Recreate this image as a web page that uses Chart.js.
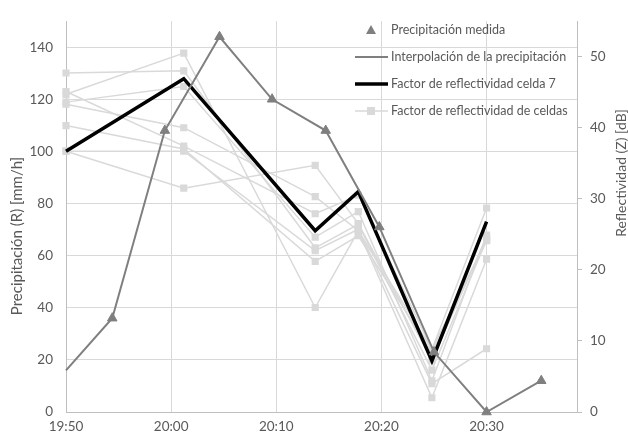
<!DOCTYPE html>
<html>
<head>
<meta charset="utf-8">
<script src="https://cdn.jsdelivr.net/npm/chart.js@4"></script>
<style>
  html, body { margin: 0; padding: 0; background: #fff; }
  #wrap { width: 628px; height: 439px; }
</style>
</head>
<body>
<div id="wrap"><canvas id="myChart" width="628" height="439"></canvas></div>
<script>
// tiempo en minutos desde las 19:50
var xTickPos = [0, 10, 20, 30, 40]
var xTickLabels = ['19:50', '20:00', '20:10', '20:20', '20:30']
var leftTicks = [0, 20, 40, 60, 80, 100, 120, 140]
var rightTicks = [0, 10, 20, 30, 40, 50]

// precipitacion medida [mm/h]
var tMedida = [4.4, 9.4, 14.6, 19.6, 24.7, 29.8, 35, 40, 45.2]
var precMedida = [36, 108, 144, 120, 108, 71, 23, 0, 12]

// interpolacion (arranca en 19:50)
var tInterp = [0, 4.4, 9.4, 14.6, 19.6, 24.7, 29.8, 35, 40, 45.2]
var precInterp = [16, 36, 108, 144, 120, 108, 71, 23, 0, 12]

// reflectividad [dB]
var tCeldas = [0, 11.2, 23.7, 27.8, 34.8, 40]
var celda7 = [36.7, 46.9, 25.5, 31.0, 7.2, 26.8]
var celdas = [
  [47.7, 48.0, 23.1, 26.4, 5.9, 24.2],
  [44.7, 50.5, 14.7, 25.5, 2.0, 21.5],
  [43.6, 45.8, 24.6, 28.2, 4.4, 24.9],
  [45.1, 37.4, 27.9, 30.5, 8.8, 28.7],
  [40.3, 37.0, 21.2, 24.8, 8.3, 24.1],
  [36.7, 36.7, 22.7, 25.7, 4.0, 8.9],
  [36.7, 31.5, 34.7, 26.5, 7.3, 24.6],
  [43.3, 40.0, 30.3, 25.5, 8.8, 24.2]
]

var gris = '#7f7f7f'
var grisClaro = '#d9d9d9'
var texto = '#595959'
var fuente = 'Lato, "Open Sans", sans-serif'

function pares(xs, ys) {
  return xs.map(function(x, i) { return { x: x, y: ys[i] } })
}

var datasets = [
  {
    label: 'Precipitación medida',
    data: pares(tMedida, precMedida),
    showLine: false,
    pointStyle: 'triangle',
    pointRadius: 5.5,
    backgroundColor: gris,
    borderColor: gris,
    clip: false,
    yAxisID: 'y'
  },
  {
    label: 'Interpolación de la precipitación',
    data: pares(tInterp, precInterp),
    borderColor: gris,
    borderWidth: 2,
    pointRadius: 0,
    clip: false,
    yAxisID: 'y'
  },
  {
    label: 'Factor de reflectividad celda 7',
    data: pares(tCeldas, celda7),
    borderColor: '#000',
    borderWidth: 3.5,
    pointRadius: 0,
    clip: false,
    yAxisID: 'y2'
  }
]

celdas.forEach(function(c, i) {
  datasets.push({
    label: i == 0 ? 'Factor de reflectividad de celdas' : '',
    data: pares(tCeldas, c),
    borderColor: grisClaro,
    backgroundColor: grisClaro,
    borderWidth: 1.5,
    pointStyle: 'rect',
    pointRadius: 4,
    clip: false,
    yAxisID: 'y2'
  })
})

// leyenda y titulos de ejes dibujados a mano
var extras = {
  id: 'extras',
  afterDraw: function(chart) {
    var ctx = chart.ctx
    ctx.save()
    ctx.fillStyle = texto
    ctx.textBaseline = 'middle'

    // titulos
    ctx.font = '15px ' + fuente
    ctx.textAlign = 'center'
    ctx.save()
    ctx.translate(17, 236)
    ctx.rotate(-Math.PI / 2)
    ctx.fillText('Precipitación (R) [mm/h]', 0, 0)
    ctx.restore()
    ctx.font = '14px ' + fuente
    ctx.save()
    ctx.translate(621, 173)
    ctx.rotate(-Math.PI / 2)
    ctx.fillText('Reflectividad (Z) [dB]', 0, 0)
    ctx.restore()

    // leyenda
    var x0 = 355, x1 = 388, xm = 371, xt = 391
    var ys = [30, 57, 84, 111]
    ctx.font = '12.5px ' + fuente
    ctx.textAlign = 'left'

    ctx.fillStyle = gris
    ctx.beginPath()
    ctx.moveTo(xm, ys[0] - 5)
    ctx.lineTo(xm + 5, ys[0] + 4)
    ctx.lineTo(xm - 5, ys[0] + 4)
    ctx.closePath()
    ctx.fill()

    ctx.strokeStyle = gris
    ctx.lineWidth = 2
    ctx.beginPath(); ctx.moveTo(x0, ys[1]); ctx.lineTo(x1, ys[1]); ctx.stroke()

    ctx.strokeStyle = '#000'
    ctx.lineWidth = 3.5
    ctx.beginPath(); ctx.moveTo(x0, ys[2]); ctx.lineTo(x1, ys[2]); ctx.stroke()

    ctx.strokeStyle = grisClaro
    ctx.lineWidth = 1.5
    ctx.beginPath(); ctx.moveTo(x0, ys[3]); ctx.lineTo(x1, ys[3]); ctx.stroke()
    ctx.fillStyle = grisClaro
    ctx.fillRect(xm - 4, ys[3] - 4, 8, 8)

    ctx.fillStyle = texto
    for (var i = 0; i < 4; i++) {
      ctx.fillText(datasets[i].label, xt, ys[i])
    }
    ctx.restore()
  }
}

var ctx = document.getElementById('myChart').getContext('2d')
var chart = new Chart(ctx, {
  type: 'line',
  data: { datasets: datasets },
  plugins: [extras],
  options: {
    responsive: false,
    animation: false,
    layout: { padding: { top: 12, left: 0, right: 0, bottom: 0 } },
    plugins: { legend: { display: false }, tooltip: { enabled: false } },
    scales: {
      x: {
        type: 'linear',
        min: 0,
        max: 48.6,
        afterBuildTicks: function(s) { s.ticks = xTickPos.map(function(v) { return { value: v } }) },
        afterFit: function(s) { s.height = 27 },
        grid: { color: grisClaro, drawTicks: false },
        border: { color: '#bfbfbf' },
        ticks: {
          padding: 7,
          color: texto,
          font: { family: fuente, size: 13.5 },
          maxRotation: 0,
          callback: function(v, i) { return xTickLabels[i] }
        }
      },
      y: {
        position: 'left',
        min: 0,
        max: 150,
        afterBuildTicks: function(s) { s.ticks = leftTicks.map(function(v) { return { value: v } }) },
        afterFit: function(s) { s.width = 66 },
        grid: { color: grisClaro, drawTicks: false },
        border: { color: '#bfbfbf' },
        ticks: { padding: 13, color: texto, font: { family: fuente, size: 13.5 } }
      },
      y2: {
        position: 'right',
        min: 0,
        max: 55,
        afterBuildTicks: function(s) { s.ticks = rightTicks.map(function(v) { return { value: v } }) },
        afterFit: function(s) { s.width = 51 },
        grid: { drawOnChartArea: false, color: '#bfbfbf', tickLength: 5 },
        border: { color: '#bfbfbf' },
        ticks: { padding: 8, color: texto, font: { family: fuente, size: 13.5 } }
      }
    }
  }
})
</script>
</body>
</html>
